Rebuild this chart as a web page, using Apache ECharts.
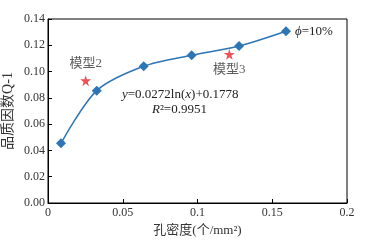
<!DOCTYPE html>
<html lang="zh">
<head>
    <meta charset="UTF-8">
    <title>品质因数</title>
    <script src="https://cdn.jsdelivr.net/npm/echarts@6/dist/echarts.min.js"></script>
    <style type="text/css">
        html, body { margin: 0; padding: 0; background: #fff; }
        #chartData { width: 365px; height: 241px; }
    </style>
</head>
<body>
<div id="chartData"></div>
<script type="text/javascript">
    // 孔密度 / 品质因数 测试点
    var holeDensity = [0.0087, 0.0326, 0.064, 0.0961, 0.1278, 0.1592];
    var qFactor = [0.0454, 0.0855, 0.104, 0.1124, 0.1195, 0.1307];
    // 模型点
    var modelNames = ['模型2', '模型3'];
    var modelX = [0.0252, 0.1213];
    var modelY = [0.0931, 0.1132];
    var xTicks = [0, 0.05, 0.1, 0.15, 0.2];

    var serif = '"Times New Roman", "Liberation Serif", "Noto Sans CJK SC", serif';
    var blue = '#2e75b6', red = '#e8262a';

    var myChart = echarts.init(document.getElementById('chartData'));

    var dataAry = [], modelAry = [];
    for (var i = 0; i < holeDensity.length; i++) {
        var item = { value: [holeDensity[i], qFactor[i]] };
        if (i == holeDensity.length - 1) {
            item.label = {
                show: true, position: 'right', distance: 4,
                formatter: '{i|ϕ}=10%',
                rich: { i: { fontStyle: 'italic', fontFamily: serif, fontSize: 13, color: '#222' } }
            };
        }
        dataAry.push(item);
    }
    for (var j = 0; j < modelNames.length; j++) {
        modelAry.push({
            value: [modelX[j], modelY[j]],
            label: { show: true, formatter: modelNames[j], position: j == 0 ? 'top' : 'bottom', distance: j == 0 ? 5 : 3 }
        });
    }

    var option = {
        animation: false,
        grid: {
            left: 48, right: 18, top: 19, bottom: 38,
            outerBoundsMode: 'none', containLabel: false,
            show: true, borderColor: '#000', borderWidth: 1
        },
        xAxis: {
            type: 'value', min: 0, max: 0.2, interval: 0.05,
            name: '孔密度(个/mm²)', nameLocation: 'middle', nameGap: 20,
            nameTextStyle: { fontFamily: serif, fontSize: 13, color: '#333' },
            axisLine: { lineStyle: { color: '#000' } },
            axisTick: { inside: true, length: 4, lineStyle: { color: '#000' } },
            axisLabel: {
                fontFamily: serif, fontSize: 12, color: '#333', margin: 4,
                formatter: function (v) { return xTicks.indexOf(v) > -1 ? String(v) : ''; }
            },
            splitLine: { show: false }
        },
        yAxis: {
            type: 'value', min: 0, max: 0.14, interval: 0.02,
            name: '品质因数Q-1', nameLocation: 'middle', nameGap: 33, nameMoveOverlap: false,
            nameTextStyle: { fontFamily: serif, fontSize: 14, color: '#333' },
            axisLine: { lineStyle: { color: '#000' } },
            axisTick: { inside: true, length: 4, lineStyle: { color: '#000' } },
            axisLabel: {
                fontFamily: serif, fontSize: 12, color: '#333', margin: 3,
                formatter: function (v) { return v.toFixed(2); }
            },
            splitLine: { show: false }
        },
        textStyle: { fontFamily: serif },
        series: [
            {
                type: 'line', name: '试验', smooth: 0.3,
                symbol: 'diamond', symbolSize: 10,
                itemStyle: { color: blue },
                lineStyle: { color: blue, width: 1.5 },
                label: { fontFamily: serif, fontSize: 13, color: '#222' },
                data: dataAry
            },
            {
                type: 'scatter', name: '模型',
                symbol: 'path://M50,0 L61,35 L98,35 L68,57 L79,91 L50,70 L21,91 L32,57 L2,35 L39,35 Z',
                symbolSize: 11,
                itemStyle: { color: red },
                label: { fontFamily: serif, fontSize: 13, color: '#333' },
                data: modelAry
            }
        ],
        graphic: [
            {
                type: 'text', left: 122, top: 88,
                style: {
                    text: '{i|y}=0.0272ln({i|x})+0.1778',
                    font: '13px ' + serif, fill: '#222',
                    rich: { i: { fontStyle: 'italic', fontFamily: serif, fontSize: 13 } }
                }
            },
            {
                type: 'text', left: 152, top: 103,
                style: {
                    text: '{i|R}²=0.9951',
                    font: '13px ' + serif, fill: '#222',
                    rich: { i: { fontStyle: 'italic', fontFamily: serif, fontSize: 13 } }
                }
            }
        ]
    };
    myChart.setOption(option);
</script>
</body>
</html>
